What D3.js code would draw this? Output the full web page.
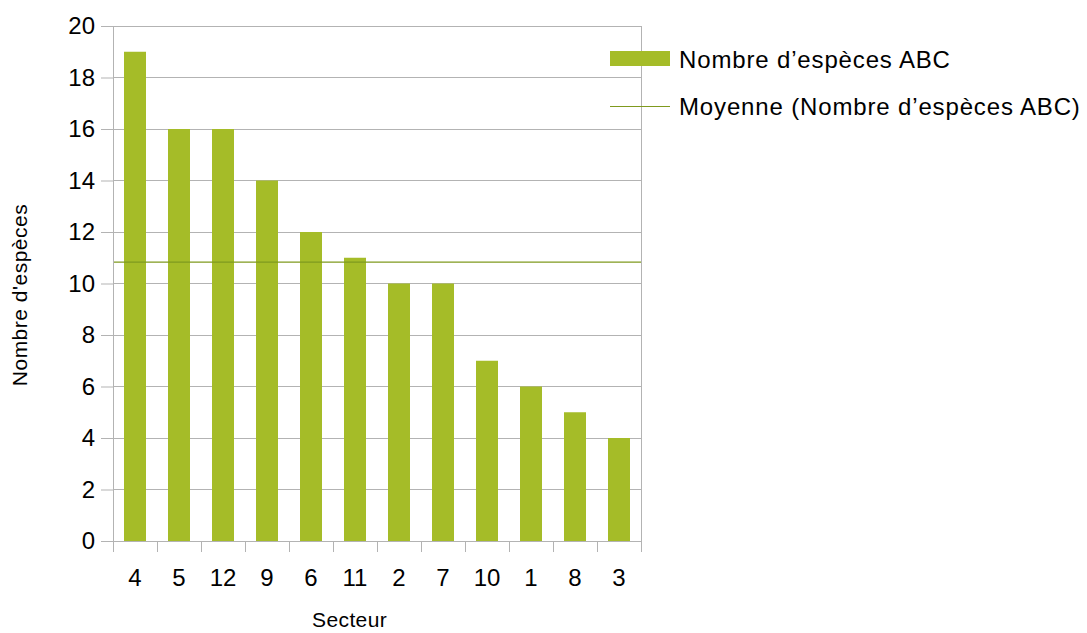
<!DOCTYPE html>
<html>
<head>
<meta charset="utf-8">
<script src="https://cdn.jsdelivr.net/npm/d3@7"></script>
<style>
  html, body { margin: 0; padding: 0; background: #fff; }
  svg { display: block; font-family: "Liberation Sans", Arial, sans-serif; }
</style>
</head>
<body>
<svg id="chart" width="1087" height="633"></svg>
<script>
// Sectors, sorted by species count
const secteurs = ["4", "5", "12", "9", "6", "11", "2", "7", "10", "1", "8", "3"];
const especes = [19, 16, 16, 14, 12, 11, 10, 10, 7, 6, 5, 4];
const yTicks = [0, 2, 4, 6, 8, 10, 12, 14, 16, 18, 20];
const legendLabels = ["Nombre d\u2019espèces ABC", "Moyenne (Nombre d\u2019espèces ABC)"];

const barColor = "#a5bc28";
const meanColor = "#7f9a1e";
const gridColor = "#b3b3b3";

const svg = d3.select("#chart");
const plot = { left: 113, right: 641, top: 26, bottom: 541 };

const x = d3.scaleBand().domain(secteurs).range([plot.left, plot.right]).paddingInner(0.5).paddingOuter(0.25);
const y = d3.scaleLinear().domain([0, 20]).range([plot.bottom, plot.top]);

// Horizontal gridlines
svg.append("g").selectAll("line").data(yTicks).join("line")
  .attr("x1", plot.left).attr("x2", plot.right)
  .attr("y1", d => y(d)).attr("y2", d => y(d))
  .attr("stroke", gridColor).attr("stroke-width", 1)
  .attr("shape-rendering", "crispEdges");

// Right border of the plot area
svg.append("line")
  .attr("x1", plot.right).attr("x2", plot.right)
  .attr("y1", plot.top).attr("y2", plot.bottom)
  .attr("stroke", gridColor).attr("shape-rendering", "crispEdges");

// Bars
svg.append("g").selectAll("rect").data(secteurs).join("rect")
  .attr("x", d => x(d))
  .attr("width", x.bandwidth())
  .attr("y", (d, i) => y(especes[i]))
  .attr("height", (d, i) => y(0) - y(especes[i]))
  .attr("fill", barColor);

// Mean line
const moyenne = d3.mean(especes);
svg.append("line")
  .attr("x1", plot.left).attr("x2", plot.right)
  .attr("y1", y(moyenne)).attr("y2", y(moyenne))
  .attr("stroke", meanColor).attr("stroke-width", 1.2);

// Y axis
const yAxis = svg.append("g")
  .attr("transform", `translate(${plot.left},0)`)
  .call(d3.axisLeft(y).tickValues(yTicks).tickSize(12).tickPadding(6));
yAxis.select(".domain").attr("stroke", gridColor);
yAxis.selectAll(".tick line").attr("stroke", gridColor);
yAxis.selectAll(".tick text").attr("font-size", 24).attr("fill", "#000")
  .attr("font-family", "Liberation Sans, Arial, sans-serif");

// X axis: ticks on the category boundaries
const xAxisG = svg.append("g").attr("transform", `translate(0,${plot.bottom})`);
xAxisG.append("line")
  .attr("x1", plot.left).attr("x2", plot.right)
  .attr("stroke", gridColor).attr("shape-rendering", "crispEdges");
const step = x.step();
const bounds = d3.range(secteurs.length + 1).map(i => plot.left + i * step);
xAxisG.selectAll("line.b").data(bounds).join("line").attr("class", "b")
  .attr("x1", d => d).attr("x2", d => d)
  .attr("y1", 0).attr("y2", 11)
  .attr("stroke", gridColor).attr("shape-rendering", "crispEdges");
xAxisG.selectAll("text").data(secteurs).join("text")
  .attr("x", d => x(d) + x.bandwidth() / 2)
  .attr("y", 45)
  .attr("text-anchor", "middle")
  .attr("font-size", 24)
  .text(d => d);

// Axis titles
svg.append("text")
  .attr("x", 312).attr("y", 627)
  .attr("font-size", 21).attr("letter-spacing", 0.4).text("Secteur");
svg.append("text")
  .attr("transform", `translate(27,295) rotate(-90)`)
  .attr("text-anchor", "middle").attr("font-size", 21).attr("letter-spacing", 0.5)
  .text("Nombre d'espèces");

// Legend
const legend = svg.append("g");
legend.append("rect").attr("x", 610).attr("y", 51).attr("width", 60).attr("height", 15).attr("fill", barColor);
legend.append("line").attr("x1", 610).attr("x2", 670).attr("y1", 106.5).attr("y2", 106.5)
  .attr("stroke", meanColor).attr("stroke-width", 1.2);
legend.selectAll("text").data(legendLabels).join("text")
  .attr("x", 679).attr("y", (d, i) => 68 + i * 47)
  .attr("font-size", 24).attr("letter-spacing", 0.85).text(d => d);
</script>
</body>
</html>
